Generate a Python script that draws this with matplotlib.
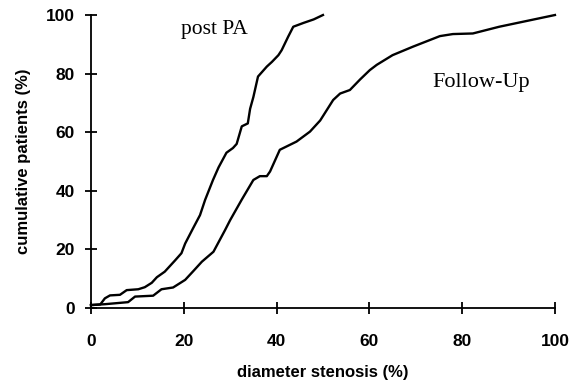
import matplotlib
matplotlib.use("Agg")
import matplotlib.pyplot as plt

post_x = [0, 2, 3.0, 4.1, 6.25, 7.7, 10.2, 11.6, 13.1, 14.2, 15.9, 18.1, 19.5, 20.3, 22.0, 23.5, 24.6,
          26.3, 27.5, 29.2, 30.6, 31.4, 32.5, 33.8, 34.3, 35.0, 36.0, 37.9, 39.0, 40.4, 41.1, 42.5,
          43.6, 45.8, 48.0, 50.0]
post_y = [1, 1.2, 3.3, 4.3, 4.5, 6.1, 6.4, 7.1, 8.6, 10.5, 12.4, 16.2, 18.7, 22.0, 27.2, 31.7, 36.9,
          43.7, 48, 53, 54.6, 56, 62, 63, 68, 72, 79, 82.4, 84, 86.3, 88, 92.6,
          96, 97.3, 98.5, 100]

fu_x = [0, 3, 8, 9.5, 13.4, 15.2, 17.7, 20.3, 22, 23.9, 26.4, 28.9, 30, 32.5, 35, 36.4, 37.9, 38.6,
        40.7, 44.3, 47.2, 49.4, 52.2, 53.7, 55.8, 58, 60.1, 61.6, 65, 69.4, 75.2, 78, 82.3, 88, 94, 100]
fu_y = [1, 1.3, 2.0, 3.9, 4.2, 6.4, 7, 9.6, 12.5, 15.8, 19.2, 26.6, 30, 37, 43.7, 45, 45, 46.6,
        54, 56.8, 60.2, 64, 71, 73.2, 74.4, 78, 81.2, 83, 86.3, 89.2, 92.8, 93.5, 93.7, 96, 98, 100]

ticks = [0, 20, 40, 60, 80, 100]
series_labels = ["post PA", "Follow-Up"]
xlabel = "diameter stenosis (%)"
ylabel = "cumulative patients (%)"

fig = plt.figure(figsize=(5.7, 3.85), dpi=100)
ax = fig.add_axes([0.1596, 0.2, 0.814, 0.761])
ax.plot(post_x, post_y, color="black", lw=1.7, clip_on=False)
ax.plot(fu_x, fu_y, color="black", lw=1.7, clip_on=False)
ax.set_xlim(0, 100)
ax.set_ylim(0, 100)
for s in ["top", "right"]:
    ax.spines[s].set_visible(False)
for s in ["left", "bottom"]:
    ax.spines[s].set_linewidth(1.3)
ax.set_xticks(ticks)
ax.set_yticks(ticks)
ax.set_xticklabels([str(t) for t in ticks], fontfamily="Liberation Sans", fontweight="bold", fontsize=12.5)
ax.set_yticklabels([str(t) for t in ticks], fontfamily="Liberation Sans", fontweight="bold", fontsize=12.5)
ax.tick_params(axis="both", direction="inout", length=9, width=1.3)
ax.tick_params(axis="x", pad=14)
ax.tick_params(axis="y", pad=7)
ax.set_xlabel(xlabel, fontfamily="Liberation Sans", fontweight="bold", fontsize=12, labelpad=12)
ax.set_ylabel(ylabel, fontfamily="Liberation Sans", fontweight="bold", fontsize=12, labelpad=11)
ax.text(26.5, 95, series_labels[0], fontfamily="Liberation Serif", fontsize=15.5, ha="center", va="center")
ax.text(84, 77, series_labels[1], fontfamily="Liberation Serif", fontsize=16, ha="center", va="center")
fig.savefig("out.png", dpi=100)
